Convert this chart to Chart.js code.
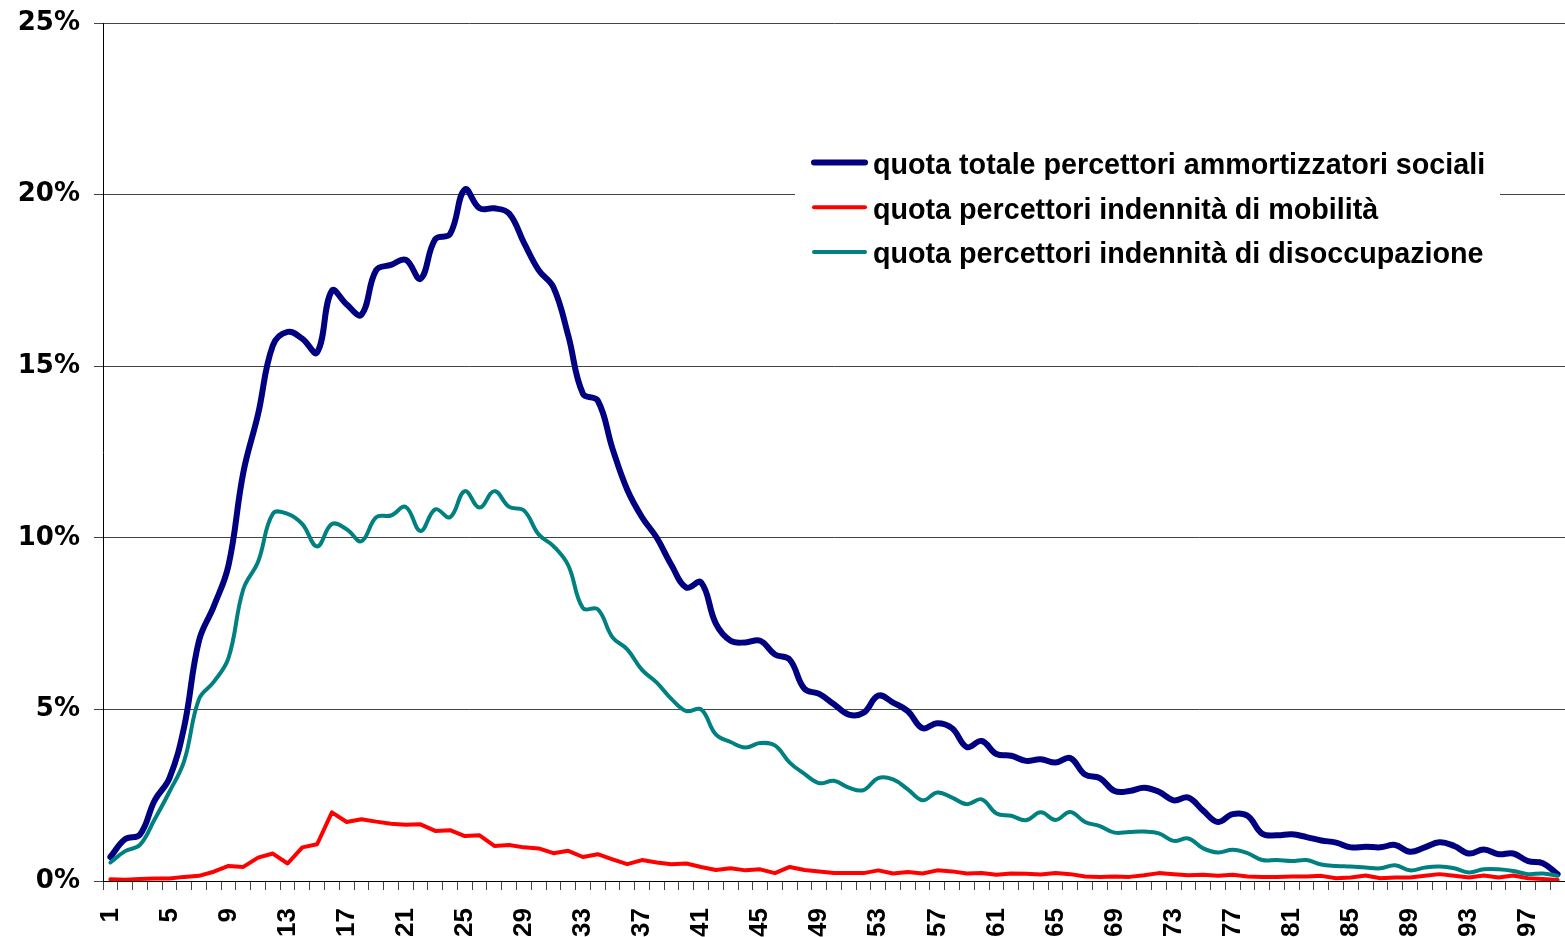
<!DOCTYPE html>
<html>
<head>
<meta charset="utf-8">
<script src="https://cdn.jsdelivr.net/npm/chart.js@4.4.1/dist/chart.umd.min.js"></script>
<style>
html,body{margin:0;padding:0;background:#ffffff;overflow:hidden}
canvas{display:block}
</style>
</head>
<body>
<canvas id="c" width="1565" height="937"></canvas>
<script>
// ---- data (values in %) ----
const categories = [1,2,3,4,5,6,7,8,9,10,11,12,13,14,15,16,17,18,19,20,21,22,23,24,25,26,27,28,29,30,31,32,33,34,35,36,37,38,39,40,41,42,43,44,45,46,47,48,49,50,51,52,53,54,55,56,57,58,59,60,61,62,63,64,65,66,67,68,69,70,71,72,73,74,75,76,77,78,79,80,81,82,83,84,85,86,87,88,89,90,91,92,93,94,95,96,97,98,99];

const xTickLabels = ['1','5','9','13','17','21','25','29','33','37','41','45','49','53','57','61','65','69','73','77','81','85','89','93','97'];

const yTickValues = [0, 5, 10, 15, 20, 25];

const seriesNames = [
  'quota totale percettori ammortizzatori sociali',
  'quota percettori indennità di mobilità',
  'quota percettori indennità di disoccupazione'
];

const totale = [
  0.70,1.22,1.35,2.35,3.0,4.5,7.0,8.0,9.2,11.9,
  13.6,15.6,16.0,15.8,15.4,17.2,16.8,16.5,17.8,17.95,
  18.1,17.55,18.7,18.85,20.15,19.6,19.6,19.45,18.6,17.8,
  17.3,15.9,14.2,14.0,12.6,11.4,10.6,10.0,9.2,8.55,
  8.7,7.5,7.0,6.95,7.0,6.6,6.45,5.6,5.45,5.15,
  4.85,4.9,5.4,5.2,4.95,4.45,4.6,4.45,3.9,4.08,
  3.7,3.65,3.5,3.55,3.45,3.58,3.1,3.0,2.62,2.62,
  2.72,2.6,2.35,2.43,2.05,1.72,1.95,1.9,1.38,1.33,
  1.36,1.28,1.18,1.12,0.98,1.0,0.98,1.05,0.85,0.98,
  1.13,1.02,0.8,0.92,0.78,0.8,0.58,0.52,0.2
];

const mobilita = [
  0.05,0.04,0.06,0.07,0.07,0.12,0.15,0.27,0.44,0.41,
  0.68,0.8,0.51,0.98,1.07,2.0,1.72,1.8,1.73,1.67,
  1.64,1.65,1.46,1.48,1.31,1.33,1.02,1.05,0.98,0.95,
  0.81,0.88,0.7,0.78,0.63,0.49,0.61,0.54,0.49,0.51,
  0.41,0.32,0.37,0.31,0.34,0.23,0.41,0.32,0.28,0.23,
  0.23,0.23,0.31,0.22,0.26,0.22,0.31,0.28,0.22,0.23,
  0.18,0.22,0.21,0.19,0.23,0.2,0.13,0.12,0.13,0.12,
  0.17,0.23,0.2,0.17,0.18,0.15,0.18,0.13,0.12,0.12,
  0.13,0.13,0.15,0.08,0.1,0.16,0.08,0.1,0.1,0.15,
  0.2,0.15,0.1,0.16,0.1,0.16,0.08,0.06,0.03
];

const disoccupazione = [
  0.54,0.87,1.05,1.8,2.6,3.5,5.3,5.8,6.5,8.5,
  9.3,10.7,10.7,10.4,9.75,10.4,10.25,9.9,10.6,10.65,
  10.9,10.2,10.83,10.6,11.36,10.88,11.36,10.9,10.8,10.1,
  9.76,9.2,7.95,7.92,7.1,6.75,6.15,5.78,5.3,4.95,
  5.0,4.27,4.05,3.89,4.02,3.95,3.45,3.12,2.85,2.92,
  2.72,2.65,3.0,2.96,2.67,2.35,2.58,2.43,2.24,2.38,
  1.97,1.9,1.77,2.0,1.78,2.01,1.72,1.6,1.41,1.43,
  1.44,1.39,1.17,1.24,0.95,0.83,0.91,0.81,0.61,0.61,
  0.58,0.61,0.48,0.44,0.42,0.39,0.37,0.46,0.31,0.39,
  0.42,0.37,0.25,0.34,0.34,0.29,0.2,0.22,0.15
];

// ---- legend drawn inside the plot, on a white box ----
const boxLegend = {
  id: 'boxLegend',
  beforeDatasetsDraw(chart, args, o) {
    const ctx = chart.ctx;
    ctx.save();
    ctx.fillStyle = '#ffffff';
    ctx.fillRect(o.boxX, o.boxY, o.boxW, o.boxH);
    ctx.font = o.font;
    ctx.textAlign = 'left';
    ctx.textBaseline = 'alphabetic';
    chart.data.datasets.forEach((ds, i) => {
      const cy = o.firstRow + i * o.rowGap;
      ctx.strokeStyle = ds.borderColor;
      ctx.lineWidth = ds.legendWidth;
      ctx.lineCap = 'round';
      ctx.beginPath();
      ctx.moveTo(o.lineX0, cy);
      ctx.lineTo(o.lineX1, cy);
      ctx.stroke();
      ctx.fillStyle = '#000000';
      ctx.fillText(ds.label, o.textX, cy + o.baseline);
    });
    ctx.restore();
  }
};

const gridColor = '#444444';

new Chart(document.getElementById('c'), {
  type: 'line',
  data: {
    labels: categories,
    datasets: [
      { label: seriesNames[0], data: totale, borderColor: '#000080', borderWidth: 6, legendWidth: 6,
        tension: 0.4, pointRadius: 0, fill: false, order: 3, borderJoinStyle: 'round', borderCapStyle: 'round' },
      { label: seriesNames[1], data: mobilita, borderColor: '#ff0000', borderWidth: 4, legendWidth: 4,
        tension: 0, pointRadius: 0, fill: false, order: 2, borderJoinStyle: 'round', borderCapStyle: 'round' },
      { label: seriesNames[2], data: disoccupazione, borderColor: '#008080', borderWidth: 4, legendWidth: 4,
        tension: 0.4, pointRadius: 0, fill: false, order: 1, borderJoinStyle: 'round', borderCapStyle: 'round' }
    ]
  },
  options: {
    responsive: false,
    animation: false,
    devicePixelRatio: 1,
    layout: { padding: { top: 23, left: 0, right: 0, bottom: 0 } },
    plugins: {
      legend: { display: false },
      tooltip: { enabled: false },
      boxLegend: {
        boxX: 795, boxY: 140, boxW: 705, boxH: 135,
        lineX0: 814, lineX1: 865, textX: 873,
        firstRow: 162.5, rowGap: 44.7, baseline: 11.5,
        font: 'bold 28.7px "Liberation Sans", Arial, sans-serif'
      }
    },
    scales: {
      x: {
        type: 'category',
        offset: true,
        grid: { offset: true, drawOnChartArea: false, drawTicks: true, tickLength: 9, color: gridColor, lineWidth: 1 },
        border: { display: true, color: '#000000', width: 1 },
        ticks: {
          autoSkip: false,
          minRotation: 90,
          maxRotation: 90,
          padding: 18,
          color: '#000000',
          font: { family: '"Liberation Sans", Arial, sans-serif', size: 26, weight: 'bold' },
          callback: function(value) {
            const lab = String(this.getLabelForValue(value));
            return xTickLabels.includes(lab) ? lab : '';
          }
        },
        afterFit: (s) => { s.height = 56; s.paddingLeft = 0; s.paddingRight = 0; }
      },
      y: {
        min: 0,
        max: 25,
        afterBuildTicks: (s) => { s.ticks = yTickValues.map(v => ({ value: v })); },
        grid: { drawTicks: true, tickLength: 9, color: gridColor, lineWidth: 1 },
        border: { display: true, color: '#000000', width: 1 },
        ticks: {
          padding: 14,
          color: '#000000',
          font: { family: '"DejaVu Sans", Verdana, sans-serif', size: 26, weight: 'bold' },
          callback: (v) => v + '%'
        },
        afterFit: (s) => { s.width = 103; s.paddingTop = 0; s.paddingBottom = 0; }
      }
    }
  },
  plugins: [boxLegend]
});
</script>
</body>
</html>
